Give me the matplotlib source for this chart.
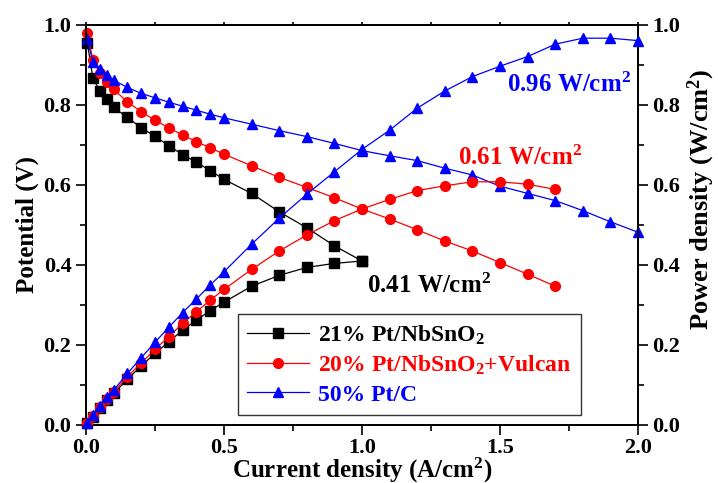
import numpy as np
import matplotlib
matplotlib.use('Agg')
import matplotlib.pyplot as plt
from matplotlib.ticker import MultipleLocator, FormatStrFormatter

plt.rcParams['font.family'] = 'Liberation Serif'
plt.rcParams['font.weight'] = 'bold'
plt.rcParams['mathtext.fontset'] = 'custom'
plt.rcParams['mathtext.rm'] = 'Liberation Serif:bold'
plt.rcParams['mathtext.bf'] = 'Liberation Serif:bold'
plt.rcParams['mathtext.it'] = 'Liberation Serif:bold'

# current density (A/cm2)
j_a = [0.005, 0.025, 0.05, 0.075, 0.1, 0.15, 0.2, 0.25, 0.3, 0.35, 0.4, 0.45, 0.5,
       0.6, 0.7, 0.8, 0.9, 1.0]
j_b = j_a + [1.1, 1.2, 1.3, 1.4, 1.5, 1.6, 1.7]
j_c = j_b + [1.8, 1.9, 2.0]

# potential (V)
v_a = [0.955, 0.867, 0.836, 0.815, 0.794, 0.769, 0.743, 0.722, 0.698, 0.676, 0.657,
       0.636, 0.614, 0.579, 0.533, 0.493, 0.448, 0.410]
v_b = [0.979, 0.912, 0.881, 0.858, 0.839, 0.808, 0.783, 0.762, 0.743, 0.725, 0.708,
       0.693, 0.677, 0.648, 0.619, 0.594, 0.568, 0.540, 0.515, 0.488, 0.460, 0.435,
       0.406, 0.377, 0.347]
v_c = [0.964, 0.908, 0.890, 0.875, 0.862, 0.844, 0.829, 0.818, 0.807, 0.797, 0.787,
       0.777, 0.768, 0.752, 0.736, 0.721, 0.704, 0.686, 0.673, 0.661, 0.642, 0.625,
       0.597, 0.579, 0.561, 0.536, 0.508, 0.482]

# power density (W/cm2)
p_a = [0.005, 0.021, 0.042, 0.062, 0.079, 0.114, 0.148, 0.179, 0.208, 0.237, 0.262,
       0.286, 0.307, 0.347, 0.374, 0.394, 0.404, 0.410]
p_b = [0.005, 0.023, 0.044, 0.064, 0.083, 0.121, 0.155, 0.189, 0.221, 0.254, 0.283,
       0.312, 0.339, 0.389, 0.435, 0.475, 0.511, 0.540, 0.564, 0.586, 0.598, 0.608,
       0.608, 0.602, 0.589]
p_c = [0.006, 0.025, 0.047, 0.069, 0.087, 0.129, 0.168, 0.207, 0.244, 0.281, 0.315,
       0.350, 0.383, 0.452, 0.517, 0.577, 0.633, 0.689, 0.737, 0.792, 0.835, 0.871,
       0.897, 0.921, 0.952, 0.967, 0.967, 0.961]

labels = ['21% Pt/NbSnO$_2$', '20% Pt/NbSnO$_2$+Vulcan', '50% Pt/C']
colors = ['black', 'red', 'blue']
markers = ['s', 'o', '^']
msizes = [6.5, 7, 7.5]
peaks = ['0.41 W/cm$^{2}$', '0.61 W/cm$^{2}$', '0.96 W/cm$^{2}$']
peak_pos = [(1.018, 0.33), (1.347, 0.65), (1.524, 0.833)]

fig = plt.figure(figsize=(7.18, 4.83), dpi=100)
ax = fig.add_axes([86/718, 1-425/483, 552/718, 400/483])
ax2 = ax.twinx()

currents = [j_a, j_b, j_c]
volts = [v_a, v_b, v_c]
powers = [p_a, p_b, p_c]
for i in range(3):
    ax.plot(currents[i], volts[i], color=colors[i], marker=markers[i], ms=msizes[i],
            lw=0.9, label=labels[i], clip_on=False, zorder=3)
    ax2.plot(currents[i], powers[i], color=colors[i], marker=markers[i], ms=msizes[i],
             lw=0.9, clip_on=False, zorder=3)

for a in (ax, ax2):
    a.set_ylim(0, 1.0)
    a.yaxis.set_major_locator(MultipleLocator(0.2))
    a.yaxis.set_minor_locator(MultipleLocator(0.1))
    a.yaxis.set_major_formatter(FormatStrFormatter('%.1f'))
    for s in a.spines.values():
        s.set_linewidth(1.3)
ax.set_xlim(0, 2.0)
ax.xaxis.set_major_locator(MultipleLocator(0.5))
ax.xaxis.set_minor_locator(MultipleLocator(0.25))
ax.xaxis.set_major_formatter(FormatStrFormatter('%.1f'))

ax.tick_params(axis='both', which='major', direction='out', length=7, width=1.2,
               labelsize=16)
ax.tick_params(axis='both', which='minor', direction='out', length=4, width=1.2)
ax.tick_params(axis='x', which='both', top=True)
ax.tick_params(axis='x', which='major', pad=2.5)
ax2.tick_params(axis='y', which='major', direction='out', length=7, width=1.2, labelsize=16)
ax2.tick_params(axis='y', which='minor', direction='out', length=4, width=1.2)
# short marks along the top
for t in ax.xaxis.get_major_ticks() + ax.xaxis.get_minor_ticks():
    t.tick2line.set_markersize(2)

ax.set_xlabel('Current density (A/cm$^{2}$)', fontsize=18, fontweight='bold', labelpad=-2)
ax.set_ylabel('Potential (V)', fontsize=18, fontweight='bold', labelpad=3)
ax2.set_ylabel('Power density (W/cm$^{2}$)', fontsize=19, fontweight='bold')
ax2.yaxis.set_label_coords(1.087, 0.565)

for i in range(3):
    ax.text(peak_pos[i][0], peak_pos[i][1], peaks[i], color=colors[i], fontsize=18,
            fontweight='bold', zorder=6)

leg = ax.legend(loc='lower left', bbox_to_anchor=(0.275, 0.025), borderaxespad=0,
                fontsize=17, frameon=True, fancybox=False, edgecolor='black',
                handlelength=2.6, handletextpad=0.4, borderpad=0.4, labelspacing=0.3)
leg.get_frame().set_linewidth(1.0)
leg.set_zorder(5)
for txt, c in zip(leg.get_texts(), colors):
    txt.set_color(c)

fig.savefig('out.png', dpi=100)
